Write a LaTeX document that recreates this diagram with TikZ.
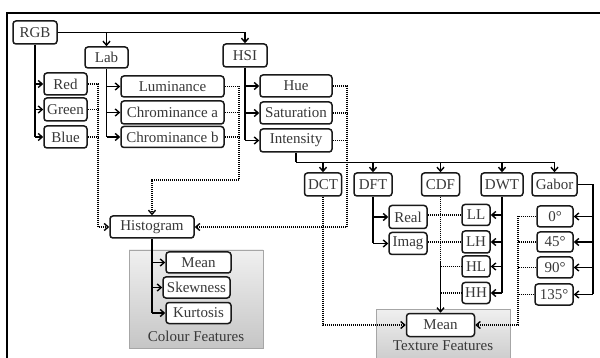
\documentclass[tikz,border=0pt]{standalone}
\usepackage{fontspec}
\setmainfont{Liberation Serif}
\usetikzlibrary{arrows.meta,calc}
\tikzset{
  bx/.style={draw=black!90, line width=1.5pt, rounded corners=3pt, fill=white, inner sep=0pt,
    font=\fontsize{15}{15}\selectfont, text=black!78},
  arr/.style={line width=1.4pt, -{Straight Barb[length=4pt,width=7pt,line width=1.4pt]}},
  ln/.style={line width=1.4pt},
  dot/.style={line width=1.5pt, dash pattern=on 1.1pt off 0.9pt},
  dotarr/.style={dot, -{Straight Barb[length=4pt,width=7pt,line width=1.4pt]}},
  grp/.style={draw=gray!70, line width=0.8pt, top color=gray!12, bottom color=gray!45},
  lbl/.style={font=\fontsize{15}{15}\selectfont, text=black!78}
}
\begin{document}
\begin{tikzpicture}[x=1pt,y=-1pt]
\useasboundingbox (0,0) rectangle (600,358);
\clip (0,0) rectangle (600,358);
% frame
\draw[line width=2.4pt] (7,380) -- (7,13) -- (620,13);
% group boxes
\path[grp] (129,250) rectangle (263,348);
\node[lbl] (colf) at (196,336) {Colour Features};
\path[grp] (376,309) rectangle (510,370);
\node[lbl] (texf) at (443,346) {Texture Features};
% nodes
\node[bx, minimum width=44, minimum height=23] (RGB) at (35,32.5) {RGB};
\node[bx, minimum width=43, minimum height=21] (Lab) at (106.5,57.5) {Lab};
\node[bx, minimum width=44, minimum height=23] (HSI) at (245,55.5) {HSI};
\node[bx, minimum width=43, minimum height=22] (Red) at (65.5,84) {Red};
\node[bx, minimum width=43, minimum height=23] (Green) at (65.5,109.5) {Green};
\node[bx, minimum width=43, minimum height=22] (Blue) at (65.5,137) {Blue};
\node[bx, minimum width=103, minimum height=21] (Lum) at (172.5,86.5) {Luminance};
\node[bx, minimum width=103, minimum height=23] (Cha) at (172.5,112.5) {Chrominance a};
\node[bx, minimum width=103, minimum height=21] (Chb) at (172.5,137) {Chrominance b};
\node[bx, minimum width=72, minimum height=22] (Hue) at (296,86) {Hue};
\node[bx, minimum width=72, minimum height=22] (Sat) at (296,113) {Saturation};
\node[bx, minimum width=72, minimum height=23] (Int) at (296,140.5) {Intensity};
\node[bx, minimum width=37, minimum height=23] (DCT) at (323,184.5) {DCT};
\node[bx, minimum width=38, minimum height=23] (DFT) at (373,184.5) {DFT};
\node[bx, minimum width=38, minimum height=23] (CDF) at (440.5,184.5) {CDF};
\node[bx, minimum width=42, minimum height=23] (DWT) at (502,184.5) {DWT};
\node[bx, minimum width=45, minimum height=23] (Gabor) at (554.5,184.5) {Gabor};
\node[bx, minimum width=38, minimum height=23] (Real) at (408,217) {Real};
\node[bx, minimum width=38, minimum height=22] (Imag) at (408,243.5) {Imag};
\node[bx, minimum width=28, minimum height=21] (LL) at (476,215) {LL};
\node[bx, minimum width=28, minimum height=22] (LH) at (476,242) {LH};
\node[bx, minimum width=28, minimum height=21] (HL) at (476,266.5) {HL};
\node[bx, minimum width=28, minimum height=21] (HH) at (476,293) {HH};
\node[bx, minimum width=36, minimum height=21] (g0) at (555,216.5) {0°};
\node[bx, minimum width=36, minimum height=20] (g45) at (555,242) {45°};
\node[bx, minimum width=36, minimum height=21] (g90) at (555,267.5) {90°};
\node[bx, minimum width=38, minimum height=21] (g135) at (554,294.5) {135°};
\node[bx, minimum width=84, minimum height=22] (Hist) at (152,227) {Histogram};
\node[bx, minimum width=65, minimum height=21] (CMean) at (198.5,262.5) {Mean};
\node[bx, minimum width=67, minimum height=21] (Skew) at (196.5,287.5) {Skewness};
\node[bx, minimum width=65, minimum height=21] (Kurt) at (198.5,313) {Kurtosis};
\node[bx, minimum width=68, minimum height=23] (TMean) at (440.5,325) {Mean};
% coordinates
\coordinate (c1) at (98,227);
\coordinate (c2) at (239,180);
\coordinate (c3) at (347,227);
\coordinate (c4) at (296,162.5);
\coordinate (c5) at (440.5,262);
\coordinate (c7) at (593,294.5);
\coordinate (c8) at (518,325);
% RGB connectors
\draw[arr] (RGB.east) -| (HSI.north);
\draw[arr] (Lab.north |- RGB.east) -- (Lab.north);
\draw[ln] (RGB.south) -- (RGB.south |- Blue.west);
\foreach \n in {Red,Green,Blue} \draw[arr] (RGB.south |- \n.west) -- (\n.west);
\draw[ln] (Lab.south) -- (Lab.south |- Chb.west);
\foreach \n in {Lum,Cha,Chb} \draw[arr] (Lab.south |- \n.west) -- (\n.west);
\draw[ln] (HSI.south) -- (HSI.south |- Int.west);
\foreach \n in {Hue,Sat,Int} \draw[arr] (HSI.south |- \n.west) -- (\n.west);
% dotted to histogram
\draw[dotarr] (Red.east) -| (c1) -- (Hist.west);
\foreach \n in {Green,Blue} \draw[dot] (\n.east) -- (\n.east -| c1);
\draw[dotarr] (Lum.east) -| (c2) -| (Hist.north);
\foreach \n in {Cha,Chb} \draw[dot] (\n.east) -- (\n.east -| c2);
\draw[dotarr] (Hue.east) -| (c3) -- (Hist.east);
\foreach \n in {Sat,Int} \draw[dot] (\n.east) -- (\n.east -| c3);
% histogram stats
\draw[ln] (Hist.south) -- (Hist.south |- Kurt.west);
\foreach \n in {CMean,Skew,Kurt} \draw[arr] (Hist.south |- \n.west) -- (\n.west);
% intensity branch
\draw[ln] (Int.south) -- (c4);
\draw[arr] (c4) -| (Gabor.north);
\foreach \n in {DCT,DFT,CDF,DWT} \draw[arr] (c4 -| \n.north) -- (\n.north);
% DCT
\draw[dotarr] (DCT.south) |- (TMean.west);
% DFT
\draw[ln] (DFT.south) -- (DFT.south |- Imag.west);
\foreach \n in {Real,Imag} \draw[arr] (DFT.south |- \n.west) -- (\n.west);
\draw[dot] (LL.west -| Real.east) -- (LL.west);
\draw[dot] (LH.west -| Imag.east) -- (LH.west);
\draw[dot] (HL.west -| CDF.south) -- (HL.west);
\draw[dot] (HH.west -| CDF.south) -- (HH.west);
% CDF
\draw[dot] (CDF.south) -- (c5);
\draw[arr] (c5) -- (TMean.north);
% DWT
\draw[ln] (DWT.south) -- (DWT.south |- HH.east);
\foreach \n in {LL,LH,HL,HH} \draw[arr] (DWT.south |- \n.east) -- (\n.east);
% Gabor
\draw[ln] (Gabor.east) -| (c7);
\foreach \n in {g0,g45,g90,g135} \draw[arr] (c7 |- \n.east) -- (\n.east);
\draw[dotarr] (g0.west) -| (c8) -- (TMean.east);
\foreach \n in {g45,g90,g135} \draw[dot] (\n.west) -- (\n.west -| c8);
\end{tikzpicture}
\end{document}
